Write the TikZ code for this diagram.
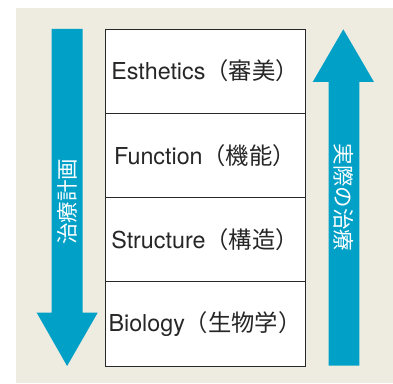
\documentclass[tikz,border=0pt]{standalone}
\usepackage{fontspec}
\setmainfont{TeX Gyre Heros}
\newfontfamily\jp{Noto Sans CJK JP}
\definecolor{bgbeige}{RGB}{238,235,224}
\definecolor{arrowblue}{RGB}{0,160,199}
\definecolor{boxline}{RGB}{40,40,40}
\tikzset{
  rowbox/.style={draw=boxline, line width=0.9pt, fill=white, minimum width=200pt, minimum height=84.25pt, inner sep=0pt, font=\fontsize{23.3}{26}\selectfont, text=black!85},
  arrowlabel/.style={text=white, font=\jp\fontsize{21.5}{23}\selectfont, inner sep=0pt},
}
\begin{document}
\begin{tikzpicture}[x=1pt,y=1pt]
\useasboundingbox (0,0) rectangle (393,383);
\fill[bgbeige] (16,0) rectangle (393,375);
% left arrow (down)
\fill[arrowblue] (51.7,354) -- (82.5,354) -- (82.5,70.3) -- (97.7,70.3) -- (67.1,17) -- (36.7,70.3) -- (51.7,70.3) -- cycle;
% right arrow (up)
\fill[arrowblue] (328.7,17.5) -- (359.3,17.5) -- (359.3,301) -- (374,301) -- (343.3,353.7) -- (312.7,301) -- (328.7,301) -- cycle;
% boxes
\node[rowbox] (bio) at (205,59.15) {Biology{\jp（生物学）}};
\node[rowbox] (str) at (205,143.4) {Structure{\jp（構造）}};
\node[rowbox] (fun) at (205,227.65) {Function{\jp（機能）}};
\node[rowbox] (est) at (205,311.9) {Esthetics{\jp（審美）}};
% labels
\node[arrowlabel, rotate=90] (plan) at (67,181.5) {治療計画};
\node[arrowlabel, rotate=-90] (real) at (343.5,185.5) {実際の治療};
\end{tikzpicture}
\end{document}
